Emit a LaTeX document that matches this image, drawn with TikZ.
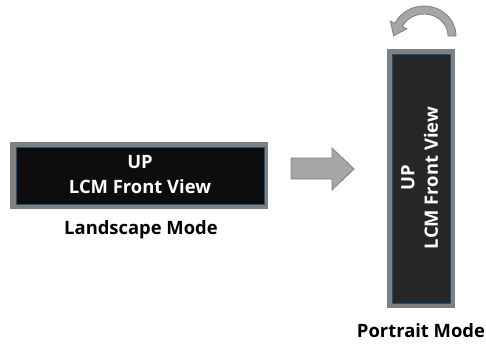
\documentclass[tikz,border=0pt]{standalone}
\usepackage{fontspec}
\setmainfont{Open Sans}
\definecolor{frame}{HTML}{808080}
\definecolor{screenA}{HTML}{0D0D0D}
\definecolor{screenB}{HTML}{262626}
\definecolor{edge}{HTML}{1F4E79}
\definecolor{arrowfill}{HTML}{A6A6A6}
\definecolor{arrowline}{HTML}{7F7F7F}
\tikzset{
  lbl/.style={font=\fontsize{18.4}{21}\selectfont\bfseries, inner sep=0pt},
  scrtext/.style={font=\fontsize{18.4}{21}\selectfont\bfseries, text=white, inner sep=0pt},
  arrowshape/.style={fill=arrowfill, draw=arrowline, line width=0.8pt, line join=miter}
}
\begin{document}
\begin{tikzpicture}[x=1pt,y=-1pt]
\useasboundingbox (0,0) rectangle (486,343);
% landscape
\fill[frame] (10,142) rectangle (268,209);
\draw[fill=screenA, draw=edge, line width=0.8pt] (16,147) rectangle (264,204);
\node[scrtext] (upA) at (140,162) {UP};
\node[scrtext] (lcmA) at (140,186.5) {LCM Front View};
\node[lbl] (landscape) at (141,230) {Landscape Mode};
% straight arrow
\draw[arrowshape] (291,158) -- (332,158) -- (332,148) -- (354,169) -- (332,190) -- (332,179) -- (291,179) -- cycle;
% portrait
\fill[frame] (387,49) rectangle (455,308);
\draw[fill=screenB, draw=edge, line width=0.8pt] (392,54) rectangle (450,303);
\node[scrtext, rotate=90] (upB) at (408,178) {UP};
\node[scrtext, rotate=90] (lcmB) at (431,178) {LCM Front View};
\node[lbl] (portrait) at (421,331) {Portrait Mode};
% curved arrow
\draw[arrowshape] (456,36) arc[start angle=0, end angle=-155, x radius=32, y radius=30]
  -- (390.5,21.2) -- (393.5,35.9) -- (406.8,28.8) -- (402.25,26.7)
  arc[start angle=-155, end angle=0, x radius=24, y radius=22] -- cycle;
\end{tikzpicture}
\end{document}
